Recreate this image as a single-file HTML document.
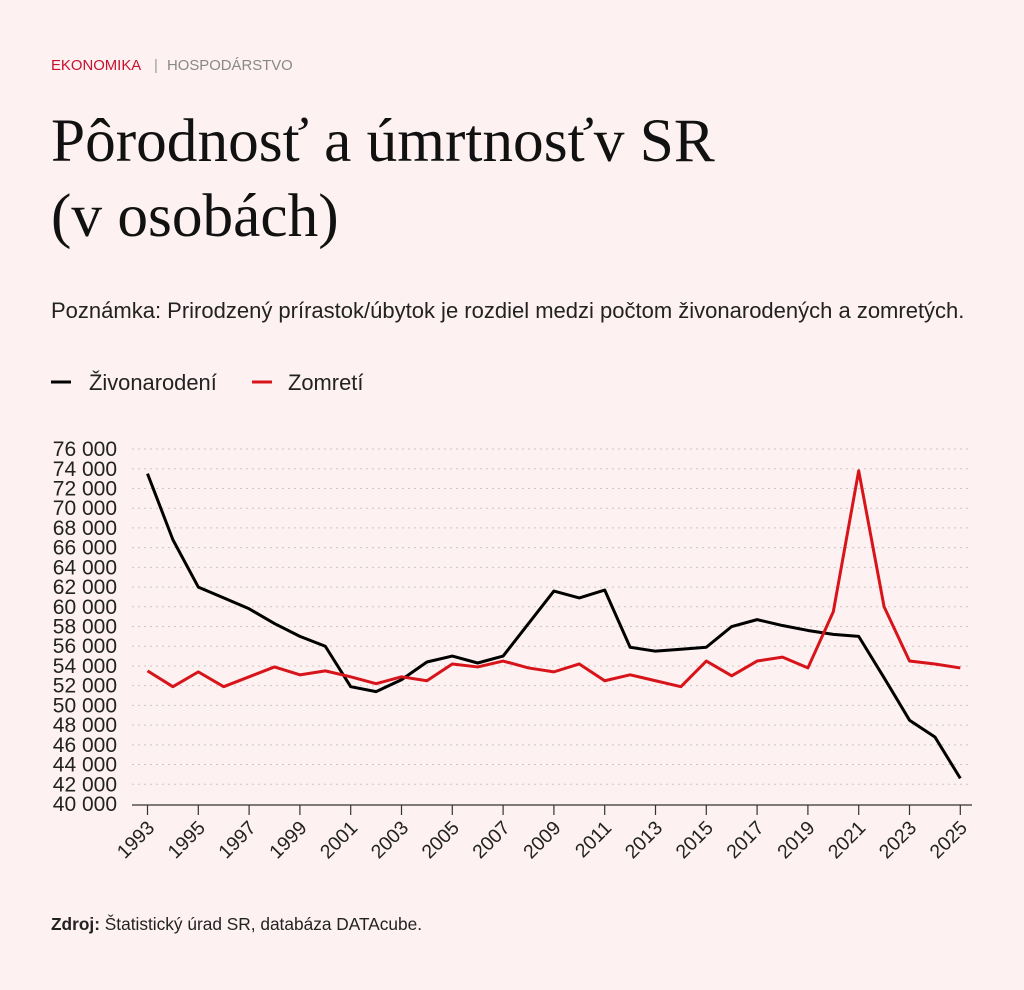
<!DOCTYPE html>
<html><head><meta charset="utf-8"><style>
body{margin:0;background:#fdf1f1;width:1024px;height:985px;overflow:hidden;font-family:"Liberation Sans",sans-serif;}
</style></head><body>
<svg width="1024" height="985" xmlns="http://www.w3.org/2000/svg" font-family="Liberation Sans, sans-serif">
<rect width="1024" height="985" fill="#fdf1f1"/>
<text x="51" y="70" font-size="14.9" fill="#c8102e">EKONOMIKA</text>
<text x="154" y="70" font-size="14.9" fill="#999">|</text>
<text x="167" y="70" font-size="14.9" fill="#888">HOSPODÁRSTVO</text>
<text x="51" y="161" font-size="61.3" font-family="Liberation Serif, serif" fill="#111">Pôrodnosť a úmrtnosťv SR</text>
<text x="51" y="236" font-size="61.3" font-family="Liberation Serif, serif" fill="#111">(v osobách)</text>
<text x="51" y="318" font-size="22" fill="#222">Poznámka: Prirodzený prírastok/úbytok je rozdiel medzi počtom živonarodených a zomretých.</text>
<line x1="51" y1="382" x2="71" y2="382" stroke="#000" stroke-width="3"/>
<text x="89" y="390" font-size="21.9" fill="#222">Živonarodení</text>
<line x1="252" y1="382" x2="272" y2="382" stroke="#d7141a" stroke-width="3"/>
<text x="288" y="390" font-size="21.9" fill="#222">Zomretí</text>
<g id="grid" stroke="#c8c8c8" stroke-dasharray="2,4" stroke-width="1"></g>
<g id="ylab" font-size="21" fill="#222" text-anchor="end"></g>
<line x1="132" y1="805" x2="972" y2="805" stroke="#333" stroke-width="1.2"/>
<g id="xt" stroke="#333" stroke-width="1.2"></g>
<g id="xl" font-size="19.5" fill="#222" text-anchor="end"></g>
<polyline id="b" fill="none" stroke="#000" stroke-width="3" stroke-linejoin="round"/>
<polyline id="r" fill="none" stroke="#d7141a" stroke-width="3" stroke-linejoin="round"/>
<text x="51" y="930" font-size="17.3" fill="#222"><tspan font-weight="bold">Zdroj:</tspan> Štatistický úrad SR, databáza DATAcube.</text>
</svg>
<script>
var ns="http://www.w3.org/2000/svg";
function y(v){return 804-(v-40000)*9.86/1000;}
function x(yr){return 147.5+(yr-1993)*25.4;}
var g=document.getElementById('grid'),yl=document.getElementById('ylab');
for(var v=40000;v<=76000;v+=2000){
 if(v>40000){var l=document.createElementNS(ns,'line');l.setAttribute('x1',132);l.setAttribute('x2',972);l.setAttribute('y1',y(v));l.setAttribute('y2',y(v));g.appendChild(l);}
 var t=document.createElementNS(ns,'text');t.setAttribute('x',117);t.setAttribute('y',y(v)+7);t.textContent=(v/1000)+' 000';yl.appendChild(t);
}
var xt=document.getElementById('xt'),xl=document.getElementById('xl');
for(var yr=1993;yr<=2025;yr+=2){
 var l=document.createElementNS(ns,'line');l.setAttribute('x1',x(yr));l.setAttribute('x2',x(yr));l.setAttribute('y1',805);l.setAttribute('y2',815);xt.appendChild(l);
 var t=document.createElementNS(ns,'text');var X=x(yr)+8,Y=829;t.setAttribute('x',X);t.setAttribute('y',Y);t.setAttribute('transform','rotate(-45 '+X+' '+Y+')');t.textContent=yr;xl.appendChild(t);
}
var B=[73500,66800,62000,60900,59800,58300,57000,56000,51900,51400,52600,54400,55000,54300,55000,58300,61600,60900,61700,55900,55500,55700,55900,58000,58700,58100,57600,57200,57000,52800,48500,46800,42600];
var R=[53500,51900,53400,51900,52900,53900,53100,53500,52900,52200,52900,52500,54200,53900,54500,53800,53400,54200,52500,53100,52500,51900,54500,53000,54500,54900,53800,59500,73800,60000,54500,54200,53800];
function pts(a){return a.map(function(v,i){return x(1993+i)+','+y(v)}).join(' ');}
document.getElementById('b').setAttribute('points',pts(B));
document.getElementById('r').setAttribute('points',pts(R));
</script>
</body></html>
